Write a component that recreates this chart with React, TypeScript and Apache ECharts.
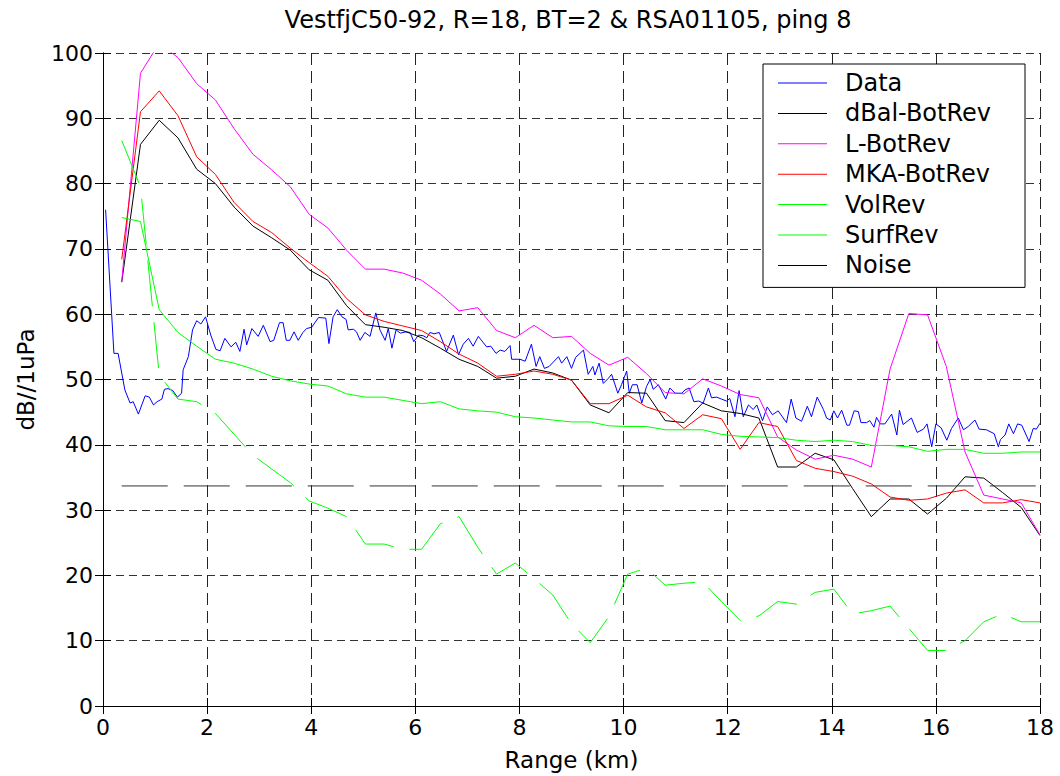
import React, { useEffect, useRef } from "react";
import * as echarts from "echarts";

const FONT = "DejaVu Sans";

const titleText = "VestfjC50-92, R=18, BT=2 & RSA01105, ping 8";
const xAxisName = "Range (km)";
const yAxisName = "dB//1uPa";
const seriesNames = ["Data", "dBal-BotRev", "L-BotRev", "MKA-BotRev", "VolRev", "SurfRev", "Noise"];

// model range grid (km)
const rangeKm = [
  0.36, 0.72, 1.08, 1.44, 1.8, 2.16, 2.52, 2.88, 3.24, 3.6,
  3.96, 4.32, 4.68, 5.04, 5.4, 5.76, 6.12, 6.48, 6.84, 7.2,
  7.56, 7.92, 8.28, 8.64, 9.0, 9.36, 9.72, 10.08, 10.44, 10.8,
  11.16, 11.52, 11.88, 12.24, 12.6, 12.96, 13.32, 13.68, 14.04, 14.4,
  14.76, 15.12, 15.48, 15.84, 16.2, 16.56, 16.92, 17.28, 17.64, 18.0,
];

const dBalBotRev = [
  64.9, 86.0, 89.7, 87.0, 82.2, 80.0, 76.4, 73.5, 71.7, 69.8,
  66.8, 65.2, 61.3, 58.4, 58.0, 57.5, 56.4, 54.8, 53.1, 52.0,
  50.2, 50.5, 51.6, 51.0, 49.9, 46.1, 44.9, 48.0, 47.9, 43.7,
  43.4, 46.4, 45.2, 44.8, 44.1, 36.6, 36.6, 38.7, 37.7, 33.3,
  29.0, 31.7, 31.7, 29.4, 31.8, 35.1, 34.9, 32.7, 30.4, 26.1,
];

const lBotRev = [
  65.0, 96.9, 101.5, 99.3, 95.3, 92.8, 88.4, 84.5, 82.1, 79.5,
  75.3, 73.2, 69.8, 66.9, 66.9, 66.3, 65.2, 63.1, 60.5, 61.0,
  57.5, 56.4, 58.3, 56.4, 56.6, 54.0, 52.2, 53.4, 50.9, 48.0,
  47.8, 50.1, 49.0, 47.7, 47.2, 41.2, 39.2, 37.8, 38.4, 37.8,
  36.6, 51.6, 60.1, 59.9, 52.0, 38.9, 32.3, 31.7, 31.1, 26.2,
];

const mkaBotRev = [
  68.4, 91.0, 94.2, 90.4, 84.1, 81.4, 77.1, 74.2, 72.5, 70.1,
  67.9, 65.8, 62.4, 59.9, 58.9, 58.2, 57.5, 55.8, 53.9, 52.5,
  50.5, 50.8, 51.3, 50.8, 49.9, 46.3, 46.3, 47.6, 45.8, 44.9,
  42.5, 44.6, 44.0, 39.3, 43.4, 42.8, 37.6, 36.4, 35.9, 35.2,
  34.0, 32.0, 31.5, 31.7, 32.6, 33.1, 31.1, 31.1, 31.6, 31.1,
];

const volRev = [
  74.8, 74.2, 60.7, 57.2, 55.1, 53.1, 52.5, 51.6, 50.5, 49.8,
  49.3, 49.0, 47.8, 47.3, 47.3, 46.8, 46.3, 46.6, 45.5, 45.2,
  45.0, 44.3, 44.1, 43.8, 43.5, 43.5, 42.9, 42.8, 42.8, 42.3,
  42.3, 42.3, 41.6, 41.3, 41.2, 41.1, 40.7, 40.5, 40.7, 40.5,
  39.9, 39.9, 39.7, 39.0, 39.3, 39.3, 38.7, 38.7, 38.9, 38.9,
];

const surfRev = [
  86.6, 79.5, 50.7, 47.0, 46.6, 44.8, 41.6, 38.4, 36.3, 34.2,
  31.4, 30.3, 29.0, 24.8, 24.8, 24.0, 24.0, 27.9, 29.0, 24.3,
  20.2, 21.9, 19.5, 17.0, 12.6, 9.7, 13.7, 20.2, 21.1, 18.5,
  18.8, 19.0, 16.0, 13.1, 13.8, 16.0, 15.6, 17.4, 17.9, 14.1,
  14.6, 15.3, 11.9, 8.5, 8.5, 10.0, 12.9, 14.1, 12.9, 12.9,
];

const noiseRange = [0.36, 18.0];
const noiseLevel = [33.7, 33.7];

// measured data (km, dB)
const dataRange = [
  0.05, 0.21, 0.29, 0.42, 0.52, 0.58, 0.68, 0.81, 0.89, 0.97,
  1.04, 1.13, 1.18, 1.25, 1.34, 1.43, 1.51, 1.54, 1.64, 1.72,
  1.8, 1.88, 1.97, 2.07, 2.17, 2.25, 2.34, 2.46, 2.55, 2.63,
  2.71, 2.76, 2.86, 2.98, 3.08, 3.21, 3.28, 3.39, 3.46, 3.52,
  3.59, 3.67, 3.75, 3.84, 3.91, 4.01, 4.14, 4.28, 4.34, 4.42,
  4.5, 4.59, 4.67, 4.71, 4.81, 4.87, 4.94, 5.03, 5.13, 5.24,
  5.32, 5.42, 5.48, 5.55, 5.63, 5.71, 5.82, 5.9, 5.97, 6.06,
  6.15, 6.22, 6.28, 6.36, 6.46, 6.6, 6.73, 6.83, 6.92, 7.02,
  7.11, 7.21, 7.37, 7.45, 7.55, 7.63, 7.72, 7.82, 7.85, 8.01,
  8.11, 8.23, 8.32, 8.39, 8.48, 8.57, 8.75, 8.81, 8.91, 9.0,
  9.08, 9.23, 9.32, 9.41, 9.45, 9.53, 9.61, 9.71, 9.77, 9.89,
  9.96, 10.06, 10.11, 10.17, 10.26, 10.35, 10.44, 10.51, 10.57, 10.67,
  10.81, 10.89, 10.99, 11.12, 11.18, 11.26, 11.35, 11.44, 11.53, 11.63,
  11.69, 11.79, 11.88, 11.98, 12.04, 12.14, 12.22, 12.3, 12.4, 12.49,
  12.56, 12.67, 12.76, 12.86, 12.97, 13.13, 13.22, 13.31, 13.42, 13.53,
  13.61, 13.72, 13.84, 13.9, 13.97, 14.04, 14.11, 14.19, 14.29, 14.34,
  14.43, 14.51, 14.56, 14.67, 14.73, 14.81, 14.86, 14.93, 15.02, 15.15,
  15.25, 15.3, 15.37, 15.53, 15.64, 15.76, 15.83, 15.92, 16.0, 16.1,
  16.21, 16.3, 16.43, 16.53, 16.62, 16.75, 16.83, 16.97, 17.12, 17.2,
  17.24, 17.33, 17.4, 17.49, 17.57, 17.65, 17.79, 17.87, 17.93, 18.0,
];

const dataLevel = [
  76.0, 54.0, 54.0, 48.4, 46.4, 46.6, 44.7, 47.5, 47.3, 46.1,
  46.6, 47.0, 48.5, 48.6, 48.3, 47.3, 47.9, 51.5, 53.5, 57.6,
  59.0, 58.5, 59.6, 56.8, 54.6, 54.4, 56.3, 55.0, 55.7, 54.3,
  57.7, 55.3, 57.8, 56.6, 58.3, 55.8, 56.0, 58.7, 58.7, 56.0,
  56.0, 57.3, 56.0, 57.2, 57.8, 58.0, 59.5, 59.4, 55.5, 59.6,
  60.7, 59.6, 59.2, 57.6, 57.7, 57.3, 56.0, 57.2, 56.6, 60.2,
  57.6, 56.0, 57.8, 54.8, 57.6, 57.1, 57.3, 57.2, 55.8, 56.8,
  56.7, 56.4, 57.2, 57.0, 57.2, 54.3, 56.8, 53.8, 55.4, 56.3,
  55.1, 56.6, 55.0, 55.1, 54.0, 54.5, 54.3, 55.2, 53.1, 53.1,
  52.8, 55.4, 52.0, 53.5, 51.7, 52.0, 53.5, 52.5, 53.5, 51.7,
  53.4, 54.5, 50.8, 52.0, 50.7, 52.5, 49.4, 50.2, 50.8, 47.9,
  49.2, 51.3, 47.9, 49.2, 49.2, 46.4, 48.9, 50.0, 48.5, 49.2,
  47.0, 48.7, 47.9, 47.9, 48.4, 48.7, 46.6, 46.7, 46.4, 48.7,
  47.2, 47.3, 47.0, 46.7, 47.1, 44.3, 48.3, 44.3, 46.1, 45.4,
  46.1, 43.7, 45.8, 44.6, 45.2, 43.4, 47.0, 44.1, 43.6, 45.9,
  44.3, 47.3, 45.4, 44.1, 43.8, 45.2, 44.1, 45.3, 43.0, 43.0,
  45.2, 45.1, 43.4, 43.4, 43.7, 42.7, 44.2, 43.2, 43.2, 44.7,
  41.5, 45.3, 43.1, 44.1, 41.9, 42.4, 43.2, 39.7, 43.2, 42.6,
  40.7, 42.5, 44.1, 42.3, 42.8, 43.8, 42.4, 42.3, 41.7, 39.7,
  40.8, 41.5, 43.2, 41.7, 43.2, 43.0, 40.5, 42.5, 42.4, 43.3,
];

const xTicks = { min: 0, max: 18, interval: 2 };
const yTicks = { min: 0, max: 100, interval: 10 };

const zip = (xs: number[], ys: number[]) => xs.map((x, i) => [x, ys[i]]);

export default function App() {
  const ref = useRef<HTMLDivElement>(null);

  useEffect(() => {
    document.body.style.margin = "0";
    if (!ref.current) return;
    const chart = echarts.init(ref.current, undefined, { renderer: "svg" });

    const axisLine = { show: true, lineStyle: { color: "#000", width: 1 } };
    const tick = { show: true, inside: true, length: 8, lineStyle: { color: "#000", width: 1 } };
    const label = { color: "#000", fontFamily: FONT, fontSize: 22 };

    const mk = (name: string, data: number[][], color: string, dashed = false) => ({
      name,
      type: "line",
      data,
      symbol: "none",
      showSymbol: false,
      clip: true,
      lineStyle: { color, width: 1, type: dashed ? [46, 16] : "solid" },
      itemStyle: { color },
      emphasis: { disabled: true },
      z: 3,
    });

    chart.setOption({
      animation: false,
      backgroundColor: "#fff",
      title: {
        text: titleText,
        left: 568,
        top: 8,
        padding: 0,
        textAlign: "center",
        textStyle: { color: "#000", fontFamily: FONT, fontSize: 24, fontWeight: "normal" },
      },
      grid: { left: 103, right: 20, top: 53, bottom: 70, containLabel: false },
      legend: {
        orient: "vertical",
        left: 763,
        top: 64,
        padding: [7, 34, 10, 15],
        itemGap: 6.4,
        itemWidth: 49,
        itemHeight: 1,
        icon: "rect",
        backgroundColor: "#fff",
        borderColor: "#000",
        borderWidth: 1,
        borderRadius: 0,
        selectedMode: false,
        textStyle: { color: "#000", fontFamily: FONT, fontSize: 24, lineHeight: 24, padding: [0, 0, 0, 13] },
        data: [
          { name: seriesNames[0] },
          { name: seriesNames[1] },
          { name: seriesNames[2] },
          { name: seriesNames[3] },
          { name: seriesNames[4] },
          { name: seriesNames[5] },
          { name: seriesNames[6], itemStyle: { color: "#000" } },
        ],
        z: 10,
      },
      xAxis: [
        {
          type: "value",
          position: "bottom",
          ...xTicks,
          name: xAxisName,
          nameLocation: "middle",
          nameGap: 42,
          nameTextStyle: { color: "#000", fontFamily: FONT, fontSize: 23 },
          axisLine,
          axisTick: tick,
          axisLabel: { ...label, margin: 10 },
          splitLine: { show: true, lineStyle: { color: "#222", width: 1, type: [12, 6] } },
        },
        {
          type: "value",
          position: "top",
          ...xTicks,
          axisLine,
          axisTick: tick,
          axisLabel: { show: false },
          splitLine: { show: false },
        },
      ],
      yAxis: [
        {
          type: "value",
          position: "left",
          ...yTicks,
          name: yAxisName,
          nameLocation: "middle",
          nameRotate: 90,
          nameGap: 66,
          nameTextStyle: { color: "#000", fontFamily: FONT, fontSize: 23 },
          axisLine,
          axisTick: tick,
          axisLabel: { ...label, margin: 10 },
          splitLine: { show: true, lineStyle: { color: "#333", width: 1, type: [8, 5] } },
        },
        {
          type: "value",
          position: "right",
          ...yTicks,
          axisLine,
          axisTick: tick,
          axisLabel: { show: false },
          splitLine: { show: false },
        },
      ],
      series: [
        mk(seriesNames[0], zip(dataRange, dataLevel), "#0000ff"),
        mk(seriesNames[1], zip(rangeKm, dBalBotRev), "#000000"),
        mk(seriesNames[2], zip(rangeKm, lBotRev), "#ff00ff"),
        mk(seriesNames[3], zip(rangeKm, mkaBotRev), "#ff0000"),
        mk(seriesNames[4], zip(rangeKm, volRev), "#00ff00"),
        mk(seriesNames[5], zip(rangeKm, surfRev), "#00ff00", true),
        mk(seriesNames[6], zip(noiseRange, noiseLevel), "#333333", true),
      ],
    });

    return () => chart.dispose();
  }, []);

  return <div ref={ref} style={{ width: 1060, height: 776 }} />;
}
